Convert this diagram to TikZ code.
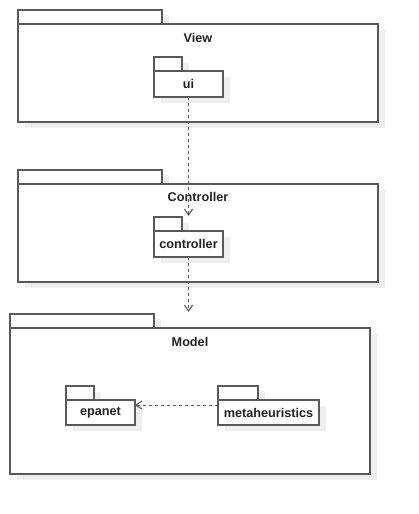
\documentclass[tikz,border=0pt]{standalone}
\usepackage{fontspec}
\setmainfont{Liberation Sans}
\usetikzlibrary{arrows.meta,shadows}
\definecolor{pkgline}{HTML}{595959}
\definecolor{pkgshadow}{HTML}{EFEFEF}
\definecolor{pkgtext}{HTML}{222222}

\begin{document}
\begin{tikzpicture}[x=0.75pt, y=-0.75pt,
  pkg/.style={draw=pkgline, line width=0.9pt, fill=white, inner sep=0pt, outer sep=0pt,
    anchor=north west, text=pkgtext, font=\fontsize{9.5}{11}\selectfont\bfseries,
    drop shadow={shadow xshift=5.25pt, shadow yshift=-4.5pt, fill=pkgshadow, opacity=1}},
  pkgname/.style={text=pkgtext, inner sep=0pt, font=\fontsize{9.5}{11}\selectfont\bfseries},
  dep/.style={draw=pkgline, line width=0.8pt, dash pattern=on 2.25pt off 2.25pt,
    -{Straight Barb[length=4.5pt,width=6pt]}}]

\useasboundingbox (0,0) rectangle (418,514);

\node[pkg, minimum width=108pt, minimum height=10.5pt] (viewtab) at (18,10) {};
\node[pkg, minimum width=270pt, minimum height=73.5pt] (view) at (viewtab.south west) {};
\node[pkgname] (viewname) at (198,38) {View};

\node[pkg, minimum width=21pt, minimum height=10.5pt] (uitab) at (154,57) {};
\node[pkg, minimum width=51.75pt, minimum height=19.5pt] (ui) at (uitab.south west) {ui};

\node[pkg, minimum width=108pt, minimum height=10.5pt] (controllertab) at (18,170) {};
\node[pkg, minimum width=270pt, minimum height=73.5pt] (controllerpkg) at (controllertab.south west) {};
\node[pkgname] (controllername) at (198,197) {Controller};

\node[pkg, minimum width=21pt, minimum height=10.5pt] (ctrltab) at (154,217) {};
\node[pkg, minimum width=51.75pt, minimum height=19.5pt] (controller) at (ctrltab.south west) {controller};

\node[pkg, minimum width=108pt, minimum height=10.5pt] (modeltab) at (10,314) {};
\node[pkg, minimum width=270pt, minimum height=109.5pt] (model) at (modeltab.south west) {};
\node[pkgname] (modelname) at (190,342) {Model};

\node[pkg, minimum width=21pt, minimum height=10.5pt] (epanettab) at (66,386) {};
\node[pkg, minimum width=51.75pt, minimum height=18.75pt] (epanet) at (epanettab.south west) {epanet};

\node[pkg, minimum width=30pt, minimum height=10.5pt] (metatab) at (218,386) {};
\node[pkg, minimum width=75.75pt, minimum height=18.75pt] (metaheuristics) at (metatab.south west) {metaheuristics};

\draw[dep] (ui.south) -- ([yshift=0.75pt]ui.south |- ctrltab.north);
\draw[dep] (controller.south) -- ([yshift=1.5pt]controller.south |- modeltab.north);
\draw[dep] ([yshift=5.6pt]metaheuristics.west) -- ([yshift=5.6pt]epanet.east);

\end{tikzpicture}
\end{document}
